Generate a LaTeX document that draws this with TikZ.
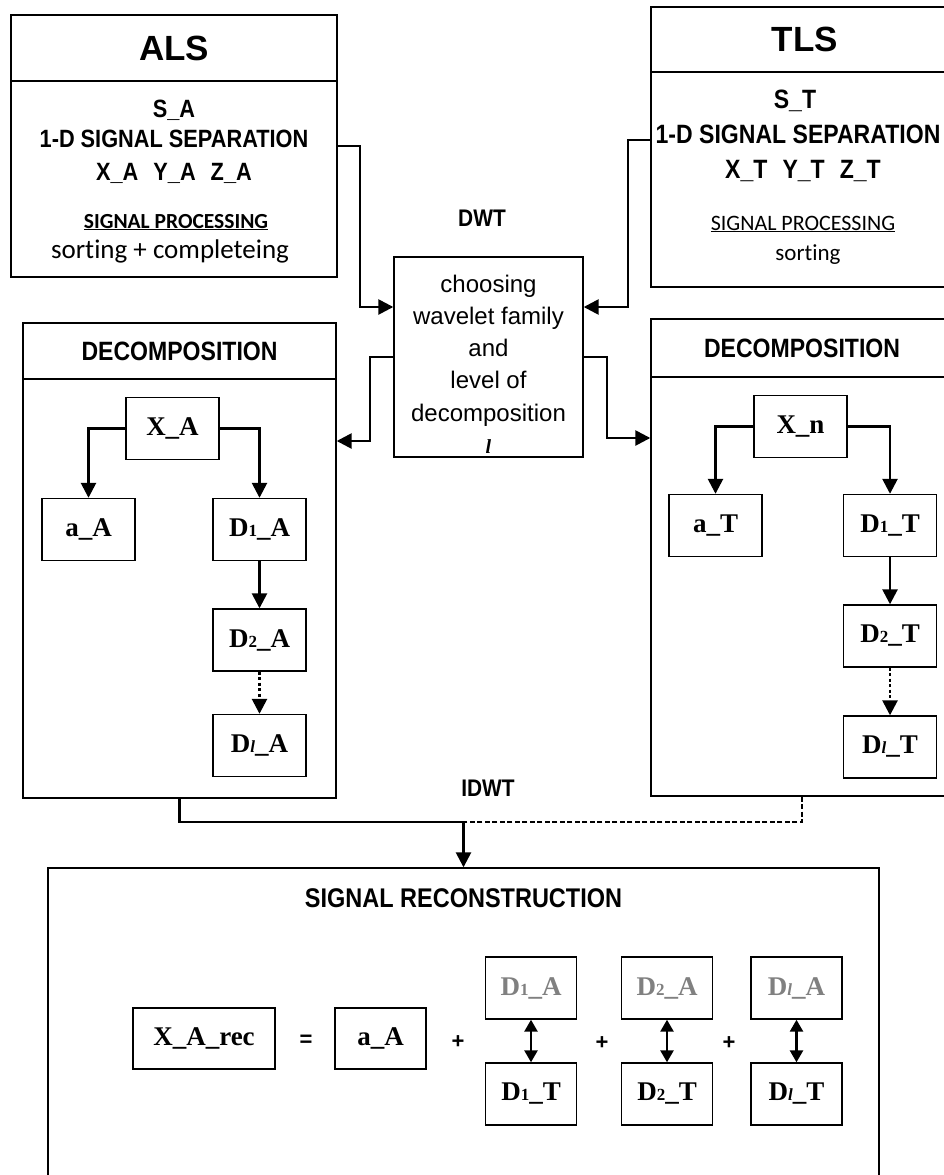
\documentclass[tikz,border=0pt]{standalone}
\usepackage{fontspec}
\setmainfont{Liberation Serif}
\newfontfamily\hdf[FakeStretch=0.87]{Liberation Sans}
\newfontfamily\arialf{Liberation Sans}
\newfontfamily\calf[Ligatures=NoCommon]{Carlito}
\usetikzlibrary{arrows.meta}
\newcommand{\setfs}[1]{\fontsize{#1pt}{#1pt}\selectfont}
\newcommand{\dsub}[1]{{\setfs{17}#1}}
\newcommand{\lsub}{\dsub{\textit{l}}}
\tikzset{
 frame/.style={draw, line width=1.4pt, inner sep=0pt},
 ibox/.style={draw, line width=1.4pt, inner sep=0pt, minimum width=93pt, minimum height=62pt, font=\bfseries\setfs{27}},
 rbox/.style={ibox, minimum width=91pt, minimum height=62pt},
 hd/.style={font=\hdf\bfseries\setfs{26.5}},
 bodyt/.style={inner sep=0pt, anchor=base, font=\hdf\bfseries\setfs{25}},
 bodytr/.style={inner sep=0pt, anchor=base, font=\hdf\bfseries\setfs{26.5}},
 dwtt/.style={inner sep=0pt, anchor=base, font=\arialf\setfs{24}},
 conn/.style={line width=2.6pt, -{Triangle[width=15pt,length=15pt]}},
 wire/.style={line width=2.6pt},
 dotconn/.style={line width=2.6pt, dash pattern=on 3pt off 2.5pt, -{Triangle[width=15pt,length=15pt]}},
 dashwire/.style={line width=1.5pt, dash pattern=on 5pt off 2.5pt},
 dbl/.style={line width=2.6pt, {Triangle[width=13pt,length=12pt]}-{Triangle[width=13pt,length=12pt]}},
 sym/.style={inner sep=0pt, font=\arialf\bfseries\setfs{22}},
}
\begin{document}
\begin{tikzpicture}[x=1pt,y=-1pt]
\useasboundingbox (0,0) rectangle (944,1175);
\clip (0,0) rectangle (944,1175);
\fill[white] (0,0) rectangle (944,1175);

% ALS
\node[frame, font=\arialf\bfseries\setfs{35}, minimum width=326pt, minimum height=66pt] (alsH) at (174,48) {ALS};
\node[frame, minimum width=326pt, minimum height=196pt] (alsB) at (174,179) {};
\node[bodyt] (alsS) at (174,117) {S\_A};
\node[bodyt] (alsSep) at (174,147) {1-D SIGNAL SEPARATION};
\node[bodyt] (alsXYZ) at (174,180) {X\_A\hspace{15pt}Y\_A\hspace{15pt}Z\_A};
\node[inner sep=0pt, anchor=base, font=\calf\bfseries\setfs{21.5}] (alsSP) at (176,228) {\underline{SIGNAL PROCESSING}};
\node[inner sep=0pt, anchor=base, font=\calf\setfs{27}] (alsSort) at (170,258) {sorting + completeing};

% TLS
\node[frame, font=\arialf\bfseries\setfs{35}, minimum width=308pt, minimum height=65pt] (tlsH) at (805,39.5) {TLS};
\node[frame, minimum width=308pt, minimum height=215pt] (tlsB) at (805,179.5) {};
\node[bodytr] (tlsS) at (795,108) {S\_T};
\node[bodytr] (tlsSep) at (798,143) {1-D SIGNAL SEPARATION};
\node[bodytr] (tlsXYZ) at (803,178) {X\_T\hspace{15pt}Y\_T\hspace{15pt}Z\_T};
\node[inner sep=0pt, anchor=base, font=\calf\setfs{22}] (tlsSP) at (803,230) {\underline{SIGNAL PROCESSING}};
\node[inner sep=0pt, anchor=base, font=\calf\setfs{23}] (tlsSort) at (808,260) {sorting};

% DWT
\node[inner sep=0pt, font=\hdf\bfseries\setfs{24}] (dwtl) at (482,218) {DWT};
\node[frame, minimum width=189pt, minimum height=200pt] (dwt) at (488.5,357) {};
\node[dwtt] (dw1) at (488.5,292) {choosing};
\node[dwtt] (dw2) at (488.5,324) {wavelet family};
\node[dwtt] (dw3) at (488.5,356) {and};
\node[dwtt] (dw4) at (488.5,388) {level of};
\node[dwtt] (dw5) at (488.5,421) {decomposition};
\node[inner sep=0pt, anchor=base, font=\bfseries\itshape\setfs{20}] (dw6) at (488.5,453) {l};

% left decomposition
\node[frame, hd, minimum width=313pt, minimum height=56pt] (decLH) at (179.5,351) {DECOMPOSITION};
\node[frame, minimum width=313pt, minimum height=419pt] (decLB) at (179.5,588.5) {};
\node[ibox] (xa) at (172.5,428.5) {X\_A};
\node[ibox] (aA) at (88.5,529.5) {a\_A};
\node[ibox] (d1A) at (259.5,529.5) {D\dsub{1}\_A};
\node[ibox] (d2A) at (259.5,640) {D\dsub{2}\_A};
\node[ibox] (dlA) at (259.5,745.5) {D\lsub\_A};

% right decomposition
\node[frame, hd, minimum width=302pt, minimum height=58pt] (decRH) at (802,348) {DECOMPOSITION};
\node[frame, minimum width=302pt, minimum height=419pt] (decRB) at (802,586.5) {};
\node[ibox] (xn) at (800.5,426.5) {X\_n};
\node[ibox] (aT) at (715.5,525.5) {a\_T};
\node[ibox] (d1T) at (890,525.5) {D\dsub{1}\_T};
\node[ibox] (d2T) at (890,636) {D\dsub{2}\_T};
\node[ibox] (dlT) at (890,747) {D\lsub\_T};

% reconstruction
\node[inner sep=0pt, font=\hdf\bfseries\setfs{24}] (idwt) at (488,788) {IDWT};
\node[frame, minimum width=831pt, minimum height=332pt] (rec) at (463.5,1034) {};
\node[inner sep=0pt, anchor=base, font=\hdf\bfseries\setfs{27}] (recT) at (463.5,907) {SIGNAL RECONSTRUCTION};
\node[rbox, minimum width=142pt, minimum height=61pt] (xrec) at (204,1038.5) {X\_A\_rec};
\node[sym] (eq) at (306,1041) {=};
\node[rbox, minimum height=61pt] (aA2) at (380.5,1038.5) {a\_A};
\node[sym] (p1) at (458,1042) {+};
\node[rbox, text=black!50] (r1a) at (531,988) {D\dsub{1}\_A};
\node[rbox] (r1t) at (531,1094) {D\dsub{1}\_T};
\node[sym] (p2) at (602,1043) {+};
\node[rbox, text=black!50] (r2a) at (667,988) {D\dsub{2}\_A};
\node[rbox] (r2t) at (667,1094) {D\dsub{2}\_T};
\node[sym] (p3) at (729,1043) {+};
\node[rbox, text=black!50] (rla) at (796.5,988) {D\lsub\_A};
\node[rbox] (rlt) at (796.5,1094) {D\lsub\_T};

% connectors top
\draw[conn] (alsB.east |- 0,146) -- (360,146) -- (360,307) -- (dwt.west |- 0,307);
\draw[conn] (tlsB.west |- 0,140) -- (628,140) -- (628,307) -- (dwt.east |- 0,307);
\draw[conn] (dwt.west |- 0,357) -- (370,357) -- (370,441) -- (decLB.east |- 0,441);
\draw[conn] (dwt.east |- 0,357) -- (607,357) -- (607,438) -- (decRB.west |- 0,438);

% inside decompositions
\draw[conn] (xa.west) -| (aA.north);
\draw[conn] (xa.east) -| (d1A.north);
\draw[conn] (d1A) -- (d2A);
\draw[dotconn] (d2A) -- (dlA);
\draw[conn] (xn.west) -| (aT.north);
\draw[conn] (xn.east) -| (d1T.north);
\draw[conn] (d1T) -- (d2T);
\draw[dotconn] (d2T) -- (dlT);

% to reconstruction
\coordinate (j) at (463.5,822);
\draw[dashwire] (decRB.south) |- (j);
\draw[wire] (decLB.south) |- (j);
\draw[conn] (j) -- (rec.north);

% double arrows
\draw[dbl] (r1a) -- (r1t);
\draw[dbl] (r2a) -- (r2t);
\draw[dbl] (rla) -- (rlt);
\end{tikzpicture}
\end{document}
